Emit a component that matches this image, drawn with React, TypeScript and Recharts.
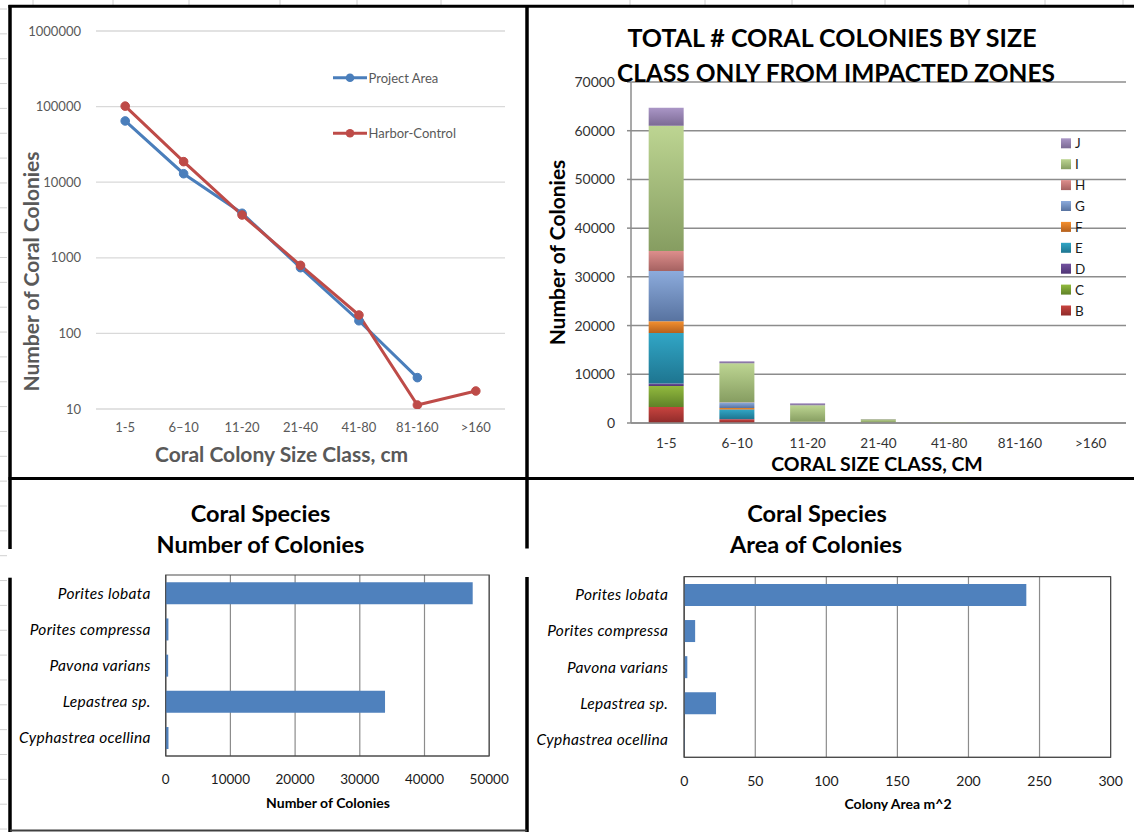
import React from "react";
import {
  LineChart,
  Line,
  XAxis,
  YAxis,
  CartesianGrid,
  BarChart,
  Bar,
  ReferenceArea,
} from "recharts";

// ---------- data ----------
const sizeClasses = ["1-5", "6–10", "11-20", "21-40", "41-80", "81-160", ">160"];
const projectArea: (number | null)[] = [64600, 12950, 3880, 740, 147, 26, null];
const harborControl: (number | null)[] = [101500, 18700, 3680, 795, 175, 11.3, 17.3];
const logTicks = [10, 100, 1000, 10000, 100000, 1000000];

const zoneNames = ["B", "C", "D", "E", "F", "G", "H", "I", "J"];
const zoneB = [3300, 750, 50, 10, 0, 0, 0];
const zoneC = [4300, 40, 10, 5, 0, 0, 0];
const zoneD = [500, 20, 10, 5, 0, 0, 0];
const zoneE = [10350, 1950, 60, 20, 5, 0, 0];
const zoneF = [2450, 330, 20, 5, 0, 0, 0];
const zoneG = [10300, 1100, 60, 20, 5, 1, 0];
const zoneH = [4100, 70, 30, 15, 2, 0, 0];
const zoneI = [25700, 8020, 3400, 700, 130, 22, 0];
const zoneJ = [3700, 410, 400, 40, 5, 2, 0];
const zoneTop = ["#C8443F", "#92BA3E", "#7352A0", "#31A6C6", "#F4902F", "#8CABDC", "#DD8E8C", "#BDD592", "#AA96C6"];
const zoneBottom = ["#8F2B2A", "#5F8228", "#4F3474", "#1E7590", "#B5601C", "#5873A0", "#A56261", "#869D61", "#7B6A94"];
const stackTicks = [0, 10000, 20000, 30000, 40000, 50000, 60000, 70000];

const species = ["Porites lobata", "Porites compressa", "Pavona varians", "Lepastrea sp.", "Cyphastrea ocellina"];
const speciesCount = [47450, 420, 380, 33900, 430];
const speciesArea = [240.7, 7.7, 2.2, 22.4, 0.5];
const countTicks = [0, 10000, 20000, 30000, 40000, 50000];
const areaTicks = [0, 50, 100, 150, 200, 250, 300];

const lineSeries = [
  { key: "project", name: "Project Area", color: "#4A7EBB", values: projectArea },
  { key: "harbor", name: "Harbor-Control", color: "#BE4B48", values: harborControl },
];

// ---------- tables built from arrays ----------
const zoneValues = [zoneB, zoneC, zoneD, zoneE, zoneF, zoneG, zoneH, zoneI, zoneJ];
const lineData = sizeClasses.map((c, i) => {
  const row: any = { cls: c };
  lineSeries.forEach((s) => (row[s.key] = s.values[i]));
  return row;
});
const stackData = sizeClasses.map((c, i) => {
  const row: any = { cls: c };
  zoneNames.forEach((z, k) => (row[z] = zoneValues[k][i]));
  return row;
});
const countData = species.map((s, i) => ({ sp: s, v: speciesCount[i] }));
const areaData = species.map((s, i) => ({ sp: s, v: speciesArea[i] }));

const sheetColumnEdges = [33, 113, 189, 280, 357, 441, 630, 705, 792, 885, 969, 1045, 1123];

const FONT = "Lato, 'Open Sans', sans-serif";

function Gradients({ prefix }: { prefix: string }) {
  return (
    <defs>
      {zoneNames.map((z, k) => (
        <linearGradient key={z} id={`${prefix}-${z}`} x1="0" y1="0" x2="0" y2="1">
          <stop offset="0%" stopColor={zoneTop[k]} />
          <stop offset="100%" stopColor={zoneBottom[k]} />
        </linearGradient>
      ))}
    </defs>
  );
}

const italicTick = { fill: "#000", fontSize: 15.5, fontStyle: "italic", letterSpacing: 0.3 };

export default function App() {
  const gutterTicks = Array.from({ length: 34 }, (_, k) => 9 + 24.85 * k);
  return (
    <div
      style={{
        position: "absolute",
        left: 0,
        top: 0,
        width: 1134,
        height: 832,
        background: "#fff",
        fontFamily: FONT,
        overflow: "hidden",
      }}
    >
      {/* Top-left: log line chart */}
      <div style={{ position: "absolute", left: 0, top: 0 }}>
        <LineChart width={530} height={478} data={lineData} margin={{ top: 31, right: 25, bottom: 39, left: 0 }}>
          <CartesianGrid vertical={false} stroke="#d9d9d9" strokeWidth={1.3} />
          <XAxis
            dataKey="cls"
            padding={{ left: 29.2, right: 29.2 }}
            axisLine={false}
            tickLine={false}
            tickSize={0}
            tickMargin={14}
            height={30}
            interval={0}
            tick={{ fill: "#595959", fontSize: 13 }}
          />
          <YAxis
            type="number"
            scale="log"
            domain={[10, 1000000]}
            ticks={logTicks}
            allowDataOverflow
            axisLine={false}
            tickLine={false}
            tickSize={0}
            tickMargin={15}
            width={96}
            interval={0}
            tick={{ fill: "#595959", fontSize: 13 }}
          />
          {lineSeries.map((s) => (
            <Line
              key={s.key}
              dataKey={s.key}
              name={s.name}
              stroke={s.color}
              strokeWidth={3}
              dot={{ r: 4.3, fill: s.color, stroke: s.color, strokeWidth: 1 }}
              isAnimationActive={false}
              connectNulls={false}
            />
          ))}
        </LineChart>
      </div>

      {/* Top-right: stacked bars */}
      <div style={{ position: "absolute", left: 527, top: 0 }}>
        <BarChart
          width={607}
          height={478}
          data={stackData}
          margin={{ top: 82, right: 8, bottom: 25, left: 0 }}
          barCategoryGap="25%"
        >
          <Gradients prefix="bar" />
          <CartesianGrid vertical={false} stroke="#8c8c8c" strokeWidth={1.5} />
          <XAxis
            dataKey="cls"
            axisLine={{ stroke: "#8c8c8c", strokeWidth: 1.5 }}
            tickLine={false}
            tickSize={0}
            tickMargin={15}
            height={30}
            interval={0}
            tick={{ fill: "#333", fontSize: 13.5 }}
          />
          <YAxis
            type="number"
            domain={[0, 70000]}
            ticks={stackTicks}
            axisLine={{ stroke: "#8c8c8c", strokeWidth: 1.5 }}
            tickLine={{ stroke: "#8c8c8c", strokeWidth: 1.5 }}
            tickSize={4}
            tickMargin={12}
            width={104}
            interval={0}
            tick={{ fill: "#333", fontSize: 14 }}
          />
          {zoneNames.map((z) => (
            <Bar key={z} dataKey={z} stackId="zones" fill={`url(#bar-${z})`} isAnimationActive={false} />
          ))}
        </BarChart>
      </div>

      {/* Bottom-left: species counts */}
      <div style={{ position: "absolute", left: 0, top: 480 }}>
        <BarChart
          layout="vertical"
          width={527}
          height={352}
          data={countData}
          margin={{ top: 95, right: 37.8, bottom: 46, left: 0 }}
          barCategoryGap="20%"
        >
          <CartesianGrid horizontal={false} stroke="#8c8c8c" strokeWidth={1.2} />
          <XAxis
            type="number"
            domain={[0, 50000]}
            ticks={countTicks}
            height={30}
            axisLine={{ stroke: "#4d4d4d" }}
            tickLine={false}
            tickSize={0}
            tickMargin={18.5}
            interval={0}
            tick={{ fill: "#1a1a1a", fontSize: 13.5 }}
          />
          <YAxis
            type="category"
            dataKey="sp"
            width={165.7}
            axisLine={{ stroke: "#4d4d4d" }}
            tickLine={false}
            tickSize={0}
            tickMargin={15}
            interval={0}
            tick={italicTick}
          />
          <ReferenceArea x1={0} x2={50000} fill="none" fillOpacity={0} stroke="#4d4d4d" strokeWidth={1.2} />
          <Bar dataKey="v" fill="#4F81BD" isAnimationActive={false} />
        </BarChart>
      </div>

      {/* Bottom-right: species area */}
      <div style={{ position: "absolute", left: 527, top: 480 }}>
        <BarChart
          layout="vertical"
          width={607}
          height={352}
          data={areaData}
          margin={{ top: 96.7, right: 23.4, bottom: 44.7, left: 0 }}
          barCategoryGap="20%"
        >
          <CartesianGrid horizontal={false} stroke="#8c8c8c" strokeWidth={1.2} />
          <XAxis
            type="number"
            domain={[0, 300]}
            ticks={areaTicks}
            height={30}
            axisLine={{ stroke: "#4d4d4d" }}
            tickLine={false}
            tickSize={0}
            tickMargin={19}
            interval={0}
            tick={{ fill: "#1a1a1a", fontSize: 14 }}
          />
          <YAxis
            type="category"
            dataKey="sp"
            width={157.2}
            axisLine={{ stroke: "#4d4d4d" }}
            tickLine={false}
            tickSize={0}
            tickMargin={16}
            interval={0}
            tick={italicTick}
          />
          <ReferenceArea x1={0} x2={300} fill="none" fillOpacity={0} stroke="#4d4d4d" strokeWidth={1.2} />
          <Bar dataKey="v" fill="#4F81BD" isAnimationActive={false} />
        </BarChart>
      </div>

      {/* Overlay: frames, titles, legends */}
      <svg
        width={1134}
        height={832}
        style={{ position: "absolute", left: 0, top: 0, pointerEvents: "none", fontFamily: FONT }}
      >
        <Gradients prefix="leg" />
        {/* spreadsheet remnants */}
        {sheetColumnEdges.map((x) => (
          <line key={"c" + x} x1={x} x2={x} y1={0} y2={5} stroke="#d0d0d0" strokeWidth={1} />
        ))}
        {gutterTicks.map((y, k) => (
          <line key={"g" + k} x1={0} x2={7} y1={y} y2={y} stroke="#d0d0d0" strokeWidth={1} />
        ))}
        {/* frames */}
        <line x1={8.5} x2={1134} y1={6.2} y2={6.2} stroke="#000" strokeWidth={3} />
        <line x1={8.5} x2={1134} y1={478.5} y2={478.5} stroke="#000" strokeWidth={3} />
        <line x1={10} x2={10} y1={5} y2={549} stroke="#000" strokeWidth={3.5} />
        <line x1={10} x2={10} y1={577.7} y2={832} stroke="#000" strokeWidth={3.5} />
        <line x1={527} x2={527} y1={5} y2={548.5} stroke="#000" strokeWidth={3.5} />
        <line x1={527} x2={527} y1={577} y2={832} stroke="#000" strokeWidth={3.5} />
        <line x1={10} x2={527} y1={830.5} y2={830.5} stroke="#404040" strokeWidth={2} />

        {/* top-left titles */}
        <text x={30} y={271.5} transform="rotate(-90 30 271.5)" textAnchor="middle" dominantBaseline="central" fontSize={21} fontWeight={700} fill="#595959">
          Number of Coral Colonies
        </text>
        <text x={281.6} y={461.5} textAnchor="middle" fontSize={21} fontWeight={700} fill="#595959">
          Coral Colony Size Class, cm
        </text>
        {/* top-left legend */}
        {lineSeries.map((s, i) => {
          const y = 77.7 + i * 55.6;
          return (
            <g key={s.key}>
              <line x1={333} x2={367} y1={y} y2={y} stroke={s.color} strokeWidth={3} />
              <circle cx={350} cy={y} r={4.3} fill={s.color} />
              <text x={368.5} y={y} dominantBaseline="central" fontSize={13} fill="#595959">
                {s.name}
              </text>
            </g>
          );
        })}

        {/* top-right titles */}
        <text x={832} y={46.7} textAnchor="middle" fontSize={25} fontWeight={700} fill="#000">
          TOTAL # CORAL COLONIES BY SIZE
        </text>
        <text x={836} y={81.7} textAnchor="middle" fontSize={24.5} fontWeight={700} fill="#000">
          CLASS ONLY FROM IMPACTED ZONES
        </text>
        <text x={556} y={252.5} transform="rotate(-90 556 252.5)" textAnchor="middle" dominantBaseline="central" fontSize={21} fontWeight={700} fill="#000">
          Number of Colonies
        </text>
        <text x={877} y={471} textAnchor="middle" fontSize={19.5} fontWeight={700} fill="#000">
          CORAL SIZE CLASS, CM
        </text>
        {/* top-right legend */}
        {zoneNames
          .slice()
          .reverse()
          .map((z, i) => {
            const y = 143.3 + i * 20.9;
            return (
              <g key={z}>
                <rect x={1061} y={y - 5} width={10} height={10} fill={`url(#leg-${z})`} />
                <text x={1075} y={y} dominantBaseline="central" fontSize={13.5} fill="#1a1a1a">
                  {z}
                </text>
              </g>
            );
          })}

        {/* bottom titles */}
        <text x={260.5} y={521.5} textAnchor="middle" fontSize={23.5} fontWeight={700} fill="#000">
          Coral Species
        </text>
        <text x={260.5} y={553} textAnchor="middle" fontSize={23.5} fontWeight={700} fill="#000">
          Number of Colonies
        </text>
        <text x={328} y={808.3} textAnchor="middle" fontSize={14} fontWeight={700} fill="#000">
          Number of Colonies
        </text>
        <text x={817} y={521.5} textAnchor="middle" fontSize={23.5} fontWeight={700} fill="#000">
          Coral Species
        </text>
        <text x={816} y={553} textAnchor="middle" fontSize={23.5} fontWeight={700} fill="#000">
          Area of Colonies
        </text>
        <text x={898} y={809} textAnchor="middle" fontSize={14} fontWeight={700} fill="#000">
          Colony Area m^2
        </text>
      </svg>
    </div>
  );
}
